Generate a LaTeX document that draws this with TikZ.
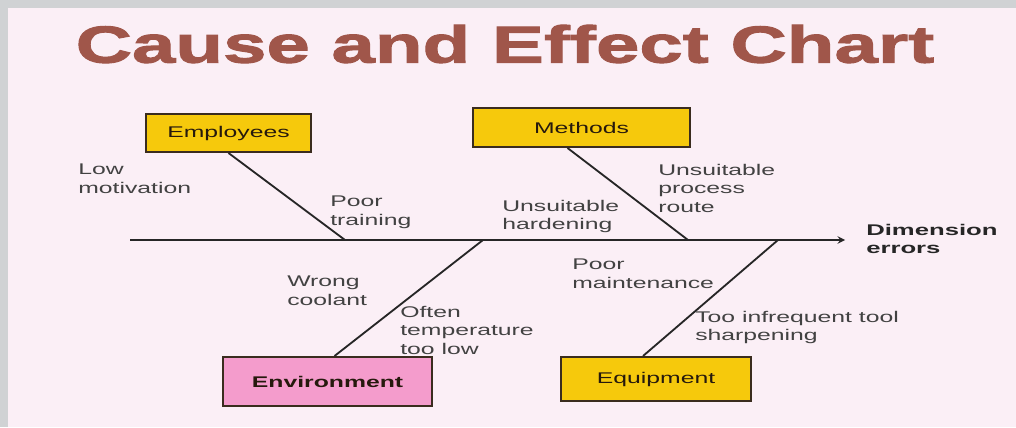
\documentclass[tikz,border=0pt]{standalone}
\usepackage{fontspec}
\setmainfont{Liberation Sans}
\newfontfamily\labelfont[FakeStretch=1.6]{Liberation Sans}
\newfontfamily\effectfont[FakeStretch=1.66]{Liberation Sans}
\newfontfamily\titlefont[FakeStretch=1.5,BoldFeatures={FakeBold=2}]{Liberation Sans}
\usepackage{tikz}
\usetikzlibrary{positioning,calc}
\definecolor{framegray}{RGB}{208,210,212}
\definecolor{paper}{RGB}{251,239,246}
\definecolor{titlebrown}{RGB}{160,86,74}
\definecolor{boxyellow}{RGB}{246,201,12}
\definecolor{boxpink}{RGB}{244,156,204}
\definecolor{boxline}{RGB}{58,44,30}
\definecolor{inktext}{RGB}{66,66,66}

\begin{document}
\begin{tikzpicture}[x=0.025cm, y=-0.025cm, ->, >=stealth]
	\tikzstyle{cause} = [rectangle, draw=boxline, line width=1.4pt, fill=boxyellow, text=black!80!brown, font=\labelfont\fontsize{11}{13}\selectfont]
	\tikzstyle{note} = [anchor=north west, inner sep=0pt, align=left, text=inktext, font=\labelfont\fontsize{11}{13}\selectfont]
	\tikzstyle{bone} = [-, draw=black!85, line width=1.3pt]
	\useasboundingbox (0,0) rectangle (1016,427);
	\fill[framegray] (0,0) rectangle (1016,427);
	\fill[paper] (8,8) rectangle (1016,427);
	\node (title)[text=titlebrown, font=\titlefont\bfseries\fontsize{37}{40}\selectfont] at (505,44) {Cause and Effect Chart};
	% spine
	\coordinate (tail) at (130,240);
	\coordinate (head) at (845,240);
	\coordinate (j1) at (345,240);
	\coordinate (j2) at (688,240);
	\coordinate (j3) at (483,240);
	\coordinate (j4) at (778,240);
	\draw [draw=black!85, line width=1.3pt] (tail) -- (head);
	\node (effect)[note, font=\effectfont\bfseries\fontsize{11}{13}\selectfont, text=black!85] at (866,224) {Dimension\\errors};
	% categories
	\node (employees)[cause, minimum width=4.125cm, minimum height=0.95cm] at (228.5,133) {Employees};
	\node (methods)[cause, minimum width=5.425cm, minimum height=0.975cm] at (581.5,127.5) {Methods};
	\node (environment)[cause, fill=boxpink, minimum width=5.225cm, minimum height=1.225cm, font=\labelfont\bfseries\fontsize{11}{13}\selectfont] at (327.5,381.5) {Environment};
	\node (equipment)[cause, minimum width=4.75cm, minimum height=1.1cm] at (656,379) {Equipment};
	\draw [bone] (employees.south) -- (j1);
	\draw [bone] ($(methods.south)+(-14,0)$) -- (j2);
	\draw [bone] ($(environment.north)+(7,0)$) -- (j3);
	\draw [bone] ($(equipment.north)+(-13,0)$) -- (j4);
	% causes
	\node (motivation)[note] at (78,164) {Low\\motivation};
	\node (training)[note] at (330,196) {Poor\\training};
	\node (route)[note] at (658,164) {Unsuitable\\process\\route};
	\node (hardening)[note] at (502,200) {Unsuitable\\hardening};
	\node (coolant)[note] at (287,276) {Wrong\\coolant};
	\node (temperature)[note] at (400,306) {Often\\temperature\\too low};
	\node (maintenance)[note] at (572,259) {Poor\\maintenance};
	\node (sharpening)[note] at (695,311) {Too infrequent tool\\sharpening};
\end{tikzpicture}
\end{document}
